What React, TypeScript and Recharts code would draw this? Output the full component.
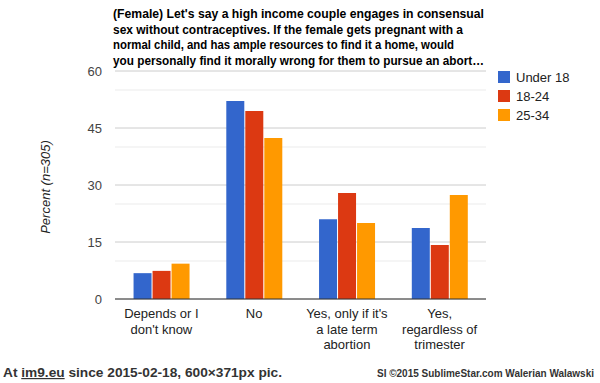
import React from "react";
import { BarChart, Bar, XAxis, YAxis, CartesianGrid } from "recharts";

const categories = [
  "Depends or I\ndon't know",
  "No",
  "Yes, only if it's\na late term\nabortion",
  "Yes,\nregardless of\ntrimester",
];
const under18 = [6.8, 52.1, 21.0, 18.7];
const age18to24 = [7.4, 49.5, 27.9, 14.2];
const age25to34 = [9.3, 42.4, 20.0, 27.4];

const seriesNames = ["Under 18", "18-24", "25-34"];
const seriesColors = ["#3366cc", "#dc3912", "#ff9900"];

const yTicks = [0, 15, 30, 45, 60];
const minorTicks = [5, 10, 20, 25, 35, 40, 50, 55];

const titleLines = [
  "(Female) Let's say a high income couple engages in consensual",
  "sex without contraceptives. If the female gets pregnant with a",
  "normal child, and has ample resources to find it a home, would",
  "you personally find it morally wrong for them to pursue an abort\u2026",
];
const titleWidths = [371, 350, 341, 371];

const data = categories.map((c, i) => ({
  name: c,
  u18: under18[i],
  a1824: age18to24[i],
  a2534: age25to34[i],
}));

const CategoryTick = (props: any) => {
  const { x, y, payload } = props;
  const lines = String(payload.value).split("\n");
  return (
    <g transform={`translate(${x},${y})`}>
      <text
        textAnchor="middle"
        fill="#222"
        fontSize={13}
        fontFamily="Liberation Sans, Arial, sans-serif"
      >
        {lines.map((l, i) => (
          <tspan key={i} x={0} y={11 + i * 15.7}>
            {l}
          </tspan>
        ))}
      </text>
    </g>
  );
};

export default function App() {
  const font = "Liberation Sans, Arial, sans-serif";
  const footFont = "Liberation Sans Narrow, Arial Narrow, sans-serif";
  return (
    <div
      style={{
        position: "absolute",
        left: 0,
        top: 0,
        width: 600,
        height: 383,
        background: "#fff",
      }}
    >
      <BarChart
        width={600}
        height={383}
        data={data}
        margin={{ top: 71, right: 114, left: 0, bottom: 0 }}
        barCategoryGap="20%"
        barGap={1}
      >
        <CartesianGrid
          vertical={false}
          horizontalValues={minorTicks}
          stroke="#ebebeb"
        />
        <CartesianGrid vertical={false} stroke="#cccccc" />
        <XAxis
          dataKey="name"
          height={84}
          tickLine={false}
          axisLine={{ stroke: "#333" }}
          interval={0}
          tick={<CategoryTick />}
        />
        <YAxis
          width={115}
          domain={[0, 60]}
          ticks={yTicks}
          axisLine={false}
          tickLine={false}
          tickSize={0}
          tickMargin={13}
          tick={{ fill: "#444", fontSize: 13, fontFamily: font }}
        />
        <Bar dataKey="u18" fill={seriesColors[0]} isAnimationActive={false} />
        <Bar dataKey="a1824" fill={seriesColors[1]} isAnimationActive={false} />
        <Bar dataKey="a2534" fill={seriesColors[2]} isAnimationActive={false} />
      </BarChart>

      <svg
        width={600}
        height={383}
        style={{ position: "absolute", left: 0, top: 0, pointerEvents: "none" }}
      >
        {titleLines.map((t, i) => (
          <text
            key={i}
            x={113}
            y={18 + i * 15.5}
            fontSize={13.5}
            fontWeight="bold"
            fontFamily="Liberation Sans Narrow, Arial Narrow, sans-serif"
            fill="#000"
            textLength={titleWidths[i]}
            lengthAdjust="spacingAndGlyphs"
          >
            {t}
          </text>
        ))}

        <text
          transform="translate(50,187) rotate(-90)"
          textAnchor="middle"
          fontSize={13}
          fontStyle="italic"
          fontFamily={font}
          fill="#222"
        >
          Percent (n=305)
        </text>

        {seriesNames.map((s, i) => (
          <g key={s}>
            <rect x={498} y={71 + i * 19} width={12} height={12} fill={seriesColors[i]} />
            <text x={516} y={82 + i * 19} fontSize={13} fontFamily={font} fill="#222">
              {s}
            </text>
          </g>
        ))}

        <text
          x={3}
          y={377}
          fontSize={12}
          fontWeight="bold"
          fontFamily={footFont}
          fill="#333"
          textLength={279}
          lengthAdjust="spacingAndGlyphs"
        >
          At <tspan textDecoration="underline">im9.eu</tspan> since 2015-02-18, 600×371px pic.
        </text>
        <text
          x={377}
          y={377}
          fontSize={10}
          fontWeight="bold"
          fontFamily={footFont}
          fill="#333"
          textLength={217}
          lengthAdjust="spacingAndGlyphs"
        >
          SI ©2015 SublimeStar.com Walerian Walawski
        </text>
      </svg>
    </div>
  );
}
